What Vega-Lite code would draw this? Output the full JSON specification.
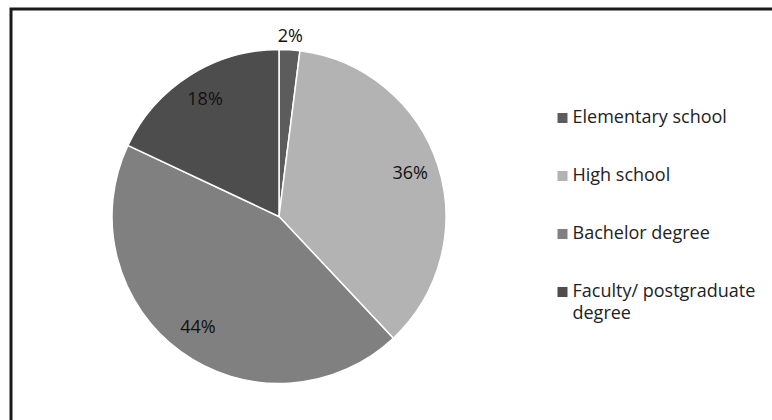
{
  "$schema": "https://vega.github.io/schema/vega-lite/v6.json",
  "padding": {"left": 9, "top": 7, "right": 0, "bottom": 0},
  "background": "white",
  "spacing": 0,
  "bounds": "flush",
  "data": {
    "values": [
      {"level": "Elementary school", "share": 2, "label": "2%", "rank": 1},
      {"level": "High school", "share": 36, "label": "36%", "rank": 2},
      {"level": "Bachelor degree", "share": 44, "label": "44%", "rank": 3},
      {"level": "Faculty/ postgraduate degree", "share": 18, "label": "18%", "rank": 4}
    ]
  },
  "hconcat": [
    {
      "width": 536,
      "height": 415,
      "view": {"stroke": "#1a1a1a", "strokeWidth": 3, "strokeDash": [536, 951, 415]},
      "encoding": {
        "theta": {"field": "share", "type": "quantitative", "stack": true},
        "order": {"field": "rank", "type": "quantitative", "sort": "ascending"},
        "color": {
          "field": "level",
          "type": "nominal",
          "sort": ["Elementary school", "High school", "Bachelor degree", "Faculty/ postgraduate degree"],
          "scale": {
            "domain": ["Elementary school", "High school", "Bachelor degree", "Faculty/ postgraduate degree"],
            "range": ["#5c5c5c", "#b3b3b3", "#808080", "#4d4d4d"]
          },
          "legend": {
            "title": null,
            "orient": "none",
            "legendX": 542.5,
            "legendY": 100,
            "symbolType": "square",
            "symbolSize": 100,
            "symbolStrokeWidth": 0,
            "rowPadding": 40,
            "labelFont": "Open Sans",
            "labelFontSize": 18,
            "labelColor": "#222222",
            "labelOffset": 1,
            "labelLimit": 300,
            "labelExpr": "datum.label == 'Faculty/ postgraduate degree' ? ['Faculty/ postgraduate', 'degree'] : datum.label"
          }
        }
      },
      "layer": [
        {"mark": {"type": "arc", "outerRadius": 167, "stroke": "white", "strokeWidth": 1.5}},
        {
          "mark": {"type": "text", "font": "Open Sans", "fontSize": 18, "radius": 138},
          "encoding": {
            "text": {"condition": {"test": "datum.share >= 5", "field": "label"}, "value": ""},
            "fill": {"value": "#111111"}
          }
        },
        {
          "mark": {"type": "text", "font": "Open Sans", "fontSize": 18, "radius": 180},
          "encoding": {
            "text": {"condition": {"test": "datum.share < 5", "field": "label"}, "value": ""},
            "fill": {"value": "#111111"}
          }
        }
      ]
    },
    {
      "width": 226,
      "height": 415,
      "view": {"stroke": "#1a1a1a", "strokeWidth": 3, "strokeDash": [226, 3000]},
      "mark": {"type": "text", "text": ""},
      "encoding": {}
    }
  ],
  "config": {
    "view": {"stroke": null},
    "style": {
      "view": {"stroke": null},
      "guide-label": {"lineHeight": 22}
    }
  }
}
